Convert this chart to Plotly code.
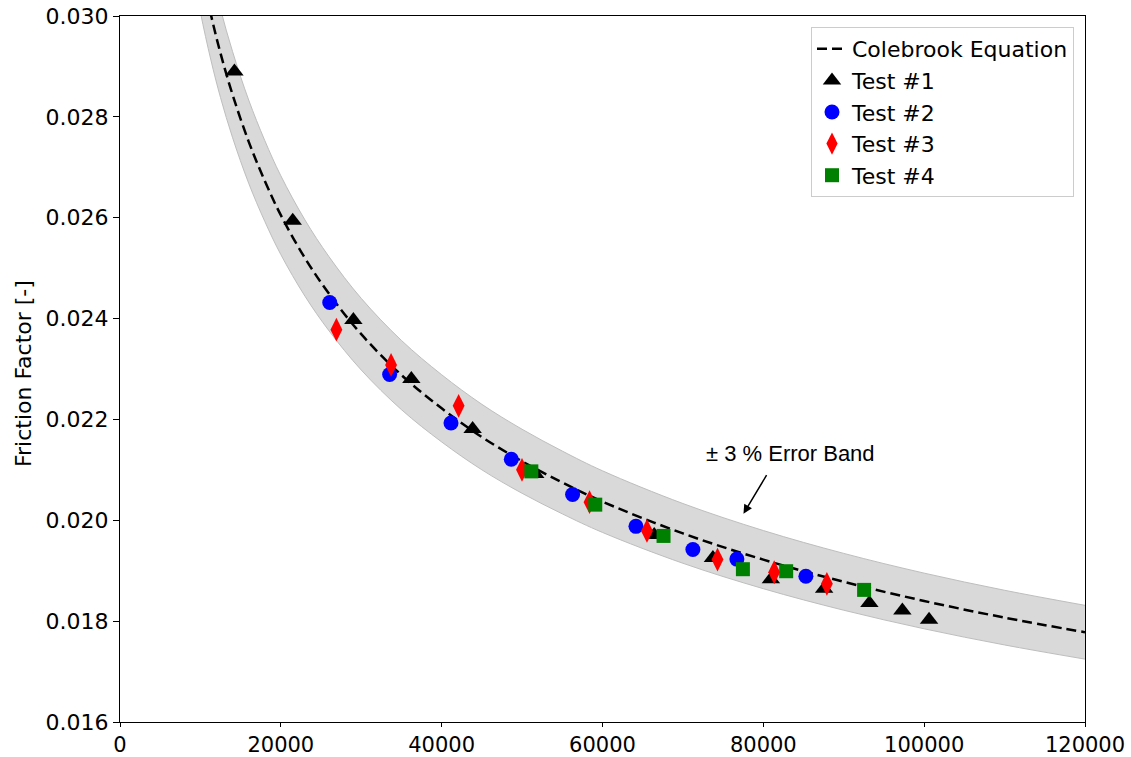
import plotly.graph_objects as go

# Colebrook curve
re_curve = [9000, 10000, 11300, 12500, 14000, 16000, 18000, 20000, 23000, 26000,
            30000, 35000, 40000, 45000, 50000, 55000, 60000, 70000, 80000, 90000,
            100000, 110000, 120000]
f_curve = [0.03187, 0.03100, 0.03003, 0.02926, 0.02844, 0.02751, 0.02673, 0.02605,
           0.02520, 0.02449, 0.02369, 0.02288, 0.02222, 0.02165, 0.02117, 0.02075,
           0.02037, 0.01974, 0.01922, 0.01878, 0.01840, 0.01807, 0.01778]
band_pct = 3.0

t1_re = [14230, 21480, 29020, 36230, 43850, 51640, 66430, 73730, 80940, 87560, 93190, 97290, 100610]
t1_f = [0.02890, 0.02594, 0.02397, 0.02280, 0.02181, 0.02092, 0.01971, 0.01925, 0.01883,
        0.01864, 0.01836, 0.01821, 0.01803]
t2_re = [26080, 33530, 41160, 48660, 56280, 64160, 71240, 76710, 85290]
t2_f = [0.02432, 0.02289, 0.02193, 0.02121, 0.02051, 0.01988, 0.01942, 0.01923, 0.01889]
t3_re = [26910, 33710, 42110, 49990, 58390, 65530, 74300, 81350, 87900]
t3_f = [0.02378, 0.02308, 0.02227, 0.02100, 0.02036, 0.01979, 0.01922, 0.01897, 0.01874]
t4_re = [51150, 59100, 67590, 77460, 82840, 92530]
t4_f = [0.02097, 0.02031, 0.01969, 0.01903, 0.01899, 0.01862]

x_ticks = [0, 20000, 40000, 60000, 80000, 100000, 120000]
y_ticks = [0.016, 0.018, 0.020, 0.022, 0.024, 0.026, 0.028, 0.030]

upper = [v * (1 + band_pct / 100) for v in f_curve]
lower = [v * (1 - band_pct / 100) for v in f_curve]

FONT = "DejaVu Sans"
FS = 22
fig = go.Figure()

fig.add_trace(go.Scatter(x=re_curve, y=lower, mode="lines", line=dict(color="rgb(190,190,190)", width=1, shape="spline"),
                         showlegend=False, hoverinfo="skip"))
fig.add_trace(go.Scatter(x=re_curve, y=upper, mode="lines", line=dict(color="rgb(190,190,190)", width=1, shape="spline"),
                         fill="tonexty", fillcolor="rgb(217,217,217)", showlegend=False, hoverinfo="skip"))
fig.add_trace(go.Scatter(x=re_curve, y=f_curve, mode="lines", name="Colebrook Equation",
                         line=dict(color="black", width=2.5, dash="10px,5px", shape="spline"),
                         legendgroup="a"))
fig.add_trace(go.Scatter(x=t1_re, y=t1_f, mode="markers", name="Test #1",
                         marker=dict(symbol="triangle-up", size=16, color="black"), legendgroup="b"))
fig.add_trace(go.Scatter(x=t2_re, y=t2_f, mode="markers", name="Test #2",
                         marker=dict(symbol="circle", size=15, color="blue"), legendgroup="c"))
fig.add_trace(go.Scatter(x=t3_re, y=t3_f, mode="markers", name="Test #3",
                         marker=dict(symbol="diamond-tall", size=17, color="red"), legendgroup="d"))
fig.add_trace(go.Scatter(x=t4_re, y=t4_f, mode="markers", name="Test #4",
                         marker=dict(symbol="square", size=14, color="green"), legendgroup="e"))

# arrow
fig.add_annotation(x=77530, y=0.02013, ax=24, ay=-40, xref="x", yref="y", text="",
                   showarrow=True, arrowhead=2, arrowsize=1.2, arrowwidth=1.5, arrowcolor="black")
fig.add_annotation(x=83340, y=0.02132, xref="x", yref="y", text="± 3 % Error Band", showarrow=False,
                   font=dict(family="Liberation Sans", size=FS, color="black"))
# y-axis title
fig.add_annotation(x=-0.100, y=0.4936, xref="paper", yref="paper", text="Friction Factor [-]",
                   textangle=-90, showarrow=False, xanchor="center", yanchor="middle",
                   font=dict(family=FONT, size=FS, color="black"))

axis_common = dict(showgrid=False, zeroline=False, showline=True, linecolor="black", linewidth=1.3,
                   mirror=True, ticks="outside", tickwidth=1.3, tickcolor="black", automargin=False)
fig.update_xaxes(range=[0, 120000], tickvals=x_ticks, ticktext=[str(v) for v in x_ticks],
                 ticklen=4, tickfont=dict(family=FONT, size=21, color="black"), **axis_common)
fig.update_yaxes(range=[0.016, 0.030], tickvals=y_ticks, ticktext=[f"{v:.3f}" for v in y_ticks],
                 ticklen=6, tickfont=dict(family=FONT, size=FS, color="black"), **axis_common)

fig.update_layout(width=1131, height=757, margin=dict(l=120, r=46, t=16, b=35),
                  paper_bgcolor="white", plot_bgcolor="white",
                  legend=dict(x=0.9886, y=0.9844, xanchor="right", yanchor="top", bgcolor="white",
                              bordercolor="rgb(204,204,204)", borderwidth=1, tracegroupgap=0,
                              font=dict(family=FONT, size=FS, color="black")),
                  showlegend=True)

fig.write_html("out.html", config={"displayModeBar": False},
               post_script="document.body.style.margin='0';document.body.style.overflow='hidden';")
